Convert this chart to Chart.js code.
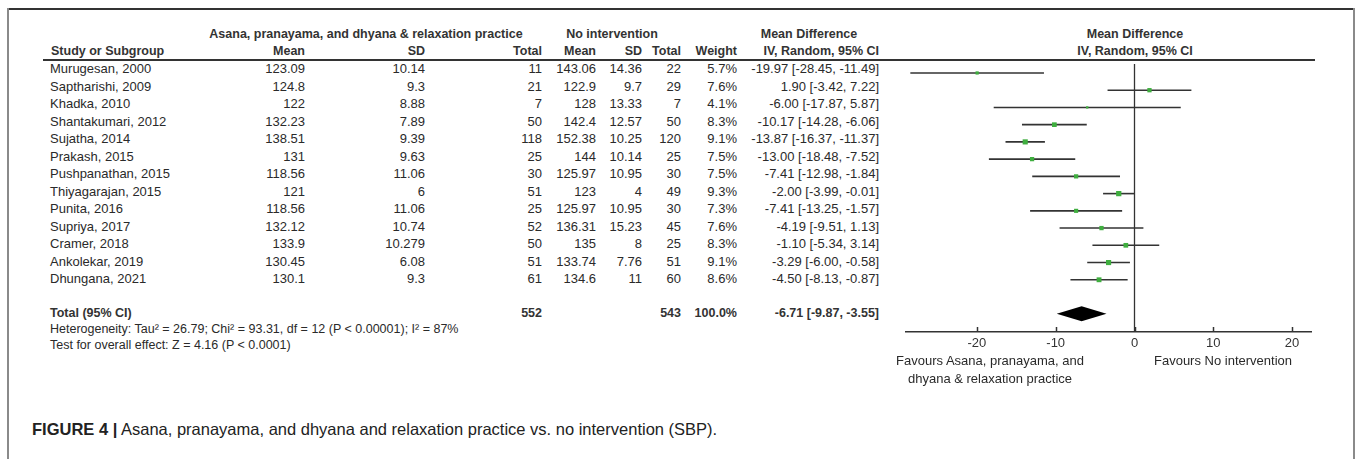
<!DOCTYPE html>
<html>
<head>
<meta charset="utf-8">
<script src="https://cdn.jsdelivr.net/npm/chart.js@4/dist/chart.umd.min.js"></script>
<style>
  html, body { margin: 0; padding: 0; background: #fff; }
  #page { position: relative; width: 1357px; height: 459px; overflow: hidden; font-family: "Liberation Sans", Arial, sans-serif; color: #2a2a2a; }
  .t { position: absolute; white-space: nowrap; font-size: 13px; line-height: 16px; }
  .b { font-weight: bold; font-size: 12.5px; color: #333; }
  .n { font-family: "Liberation Sans Narrow", "Arial Narrow", "Liberation Sans", sans-serif; font-size: 12.5px; }
  .rule { position: absolute; background: #333; }
  #frameTop { position: absolute; left: 7px; top: 8px; width: 1348px; height: 1.5px; background: #333; }
  #frameL { position: absolute; left: 7px; top: 8px; width: 2px; height: 451px; background: #8a8a8a; }
  #frameR { position: absolute; left: 1353px; top: 8px; width: 2px; height: 451px; background: #8a8a8a; }
  #plot { position: absolute; left: 902px; top: 60px; }
  .cap { position: absolute; left: 32px; top: 419px; font-size: 16.5px; line-height: 20px; white-space: nowrap; color: #222; }
</style>
</head>
<body>
<div id="page">
  <div id="frameTop"></div><div id="frameL"></div><div id="frameR"></div>
  <div class="rule" style="left:43px; top:59px; width:1272px; height:1.5px;"></div>
  <canvas id="plot" width="413" height="300"></canvas>
  <div class="cap"><b>FIGURE 4 |</b> Asana, pranayama, and dhyana and relaxation practice vs. no intervention (SBP).</div>
</div>
<script>
// study rows
var studies = ['Murugesan, 2000', 'Saptharishi, 2009', 'Khadka, 2010', 'Shantakumari, 2012', 'Sujatha, 2014',
  'Prakash, 2015', 'Pushpanathan, 2015', 'Thiyagarajan, 2015', 'Punita, 2016', 'Supriya, 2017',
  'Cramer, 2018', 'Ankolekar, 2019', 'Dhungana, 2021'];
var yogaMean = [123.09, 124.8, 122, 132.23, 138.51, 131, 118.56, 121, 118.56, 132.12, 133.9, 130.45, 130.1];
var yogaSD = [10.14, 9.3, 8.88, 7.89, 9.39, 9.63, 11.06, 6, 11.06, 10.74, 10.279, 6.08, 9.3];
var yogaN = [11, 21, 7, 50, 118, 25, 30, 51, 25, 52, 50, 51, 61];
var ctrlMean = [143.06, 122.9, 128, 142.4, 152.38, 144, 125.97, 123, 125.97, 136.31, 135, 133.74, 134.6];
var ctrlSD = [14.36, 9.7, 13.33, 12.57, 10.25, 10.14, 10.95, 4, 10.95, 15.23, 8, 7.76, 11];
var ctrlN = [22, 29, 7, 50, 120, 25, 30, 49, 30, 45, 25, 51, 60];
var weight = [5.7, 7.6, 4.1, 8.3, 9.1, 7.5, 7.5, 9.3, 7.3, 7.6, 8.3, 9.1, 8.6];
var md = [-19.97, 1.90, -6.00, -10.17, -13.87, -13.00, -7.41, -2.00, -7.41, -4.19, -1.10, -3.29, -4.50];
var ciLo = [-28.45, -3.42, -17.87, -14.28, -16.37, -18.48, -12.98, -3.99, -13.25, -9.51, -5.34, -6.00, -8.13];
var ciHi = [-11.49, 7.22, 5.87, -6.06, -11.37, -7.52, -1.84, -0.01, -1.57, 1.13, 3.14, -0.58, -0.87];

// pooled result
var totalYogaN = 552, totalCtrlN = 543, totalWeight = 100.0;
var totalMd = -6.71, totalLo = -9.87, totalHi = -3.55;
var heterogeneity = 'Heterogeneity: Tau\u00b2 = 26.79; Chi\u00b2 = 93.31, df = 12 (P < 0.00001); I\u00b2 = 87%';
var overallTest = 'Test for overall effect: Z = 4.16 (P < 0.0001)';

var xTicks = [-20, -10, 0, 10, 20];
var xMin = -29, xMax = 22.4;

var page = document.getElementById('page');
var W = 1357;

function put(text, x, y, align, cls) {
  var d = document.createElement('div');
  d.className = 't' + (cls ? ' ' + cls : '');
  d.textContent = text;
  d.style.top = (y - 8) + 'px';
  if (align == 'right') d.style.right = (W - x) + 'px';
  else if (align == 'center') { d.style.left = x + 'px'; d.style.transform = 'translateX(-50%)'; }
  else d.style.left = x + 'px';
  page.appendChild(d);
}
function ci(m, l, h) {
  return m.toFixed(2) + ' [' + l.toFixed(2) + ', ' + h.toFixed(2) + ']';
}

// column headers
put('Asana, pranayama, and dhyana & relaxation practice', 366, 34, 'center', 'b');
put('No intervention', 612, 34, 'center', 'b');
put('Mean Difference', 809, 34, 'center', 'b');
put('Mean Difference', 1135, 34, 'center', 'b');
put('Study or Subgroup', 51, 51, 'left', 'b');
put('Mean', 305, 51, 'right', 'b');
put('SD', 425, 51, 'right', 'b');
put('Total', 542, 51, 'right', 'b');
put('Mean', 596, 51, 'right', 'b');
put('SD', 642, 51, 'right', 'b');
put('Total', 681, 51, 'right', 'b');
put('Weight', 737, 51, 'right', 'b');
put('IV, Random, 95% CI', 879, 51, 'right', 'b');
put('IV, Random, 95% CI', 1135, 51, 'center', 'b');

var rowY0 = 69, rowH = 17.5;
for (var i = 0; i < studies.length; i++) {
  var y = rowY0 + rowH * i;
  put(studies[i], 50, y, 'left');
  put(String(yogaMean[i]), 305, y, 'right');
  put(String(yogaSD[i]), 425, y, 'right');
  put(String(yogaN[i]), 542, y, 'right');
  put(String(ctrlMean[i]), 596, y, 'right');
  put(String(ctrlSD[i]), 642, y, 'right');
  put(String(ctrlN[i]), 681, y, 'right');
  put(weight[i].toFixed(1) + '%', 737, y, 'right');
  put(ci(md[i], ciLo[i], ciHi[i]), 879, y, 'right');
}

var totalRow = 14;
var ty = rowY0 + rowH * totalRow - 1;
put('Total (95% CI)', 50, ty, 'left', 'n b');
put(String(totalYogaN), 542, ty, 'right', 'n b');
put(String(totalCtrlN), 681, ty, 'right', 'n b');
put(totalWeight.toFixed(1) + '%', 737, ty, 'right', 'n b');
put(ci(totalMd, totalLo, totalHi), 879, ty, 'right', 'n b');
put(heterogeneity, 50, 329, 'left', 'n');
put(overallTest, 50, 345, 'left', 'n');

// favours labels under the axis
put('Favours Asana, pranayama, and', 990, 361, 'center');
put('dhyana & relaxation practice', 990, 379, 'center');
put('Favours No intervention', 1223, 361, 'center');

// forest plot
var squares = [], ciSets = [];
for (var k = 0; k < studies.length; k++) {
  squares.push({x: md[k], y: k});
  ciSets.push({
    type: 'line', data: [{x: ciLo[k], y: k}, {x: ciHi[k], y: k}],
    borderColor: '#333', borderWidth: 1.6, pointRadius: 0
  });
}

// pooled diamond and upward axis ticks
var forestMarks = {
  id: 'forestMarks',
  afterDatasetsDraw: function(chart) {
    var c = chart.ctx, xs = chart.scales.x, ys = chart.scales.y;
    var yc = ys.getPixelForValue(totalRow - 0.03);
    c.save();
    c.fillStyle = '#000';
    c.beginPath();
    c.moveTo(xs.getPixelForValue(totalLo), yc);
    c.lineTo(xs.getPixelForValue(totalMd), yc - 7.5);
    c.lineTo(xs.getPixelForValue(totalHi), yc);
    c.lineTo(xs.getPixelForValue(totalMd), yc + 7.5);
    c.closePath();
    c.fill();
    c.strokeStyle = '#333';
    c.lineWidth = 1.5;
    xTicks.forEach(function(v) {
      var px = Math.round(xs.getPixelForValue(v)) + 0.5;
      c.beginPath();
      c.moveTo(px, chart.chartArea.bottom);
      c.lineTo(px, chart.chartArea.bottom - 5);
      c.stroke();
    });
    c.restore();
  }
};

new Chart(document.getElementById('plot').getContext('2d'), {
  type: 'scatter',
  data: {
    datasets: [{
      data: squares,
      pointStyle: 'rect',
      pointRadius: weight.map(function(w) { return w * 0.4; }),
      backgroundColor: '#3fae3f',
      borderWidth: 0
    }].concat(ciSets).concat([{
      type: 'line', data: [{x: 0, y: -0.52}, {x: 0, y: 15.03}],
      borderColor: '#333', borderWidth: 1.3, pointRadius: 0
    }])
  },
  options: {
    responsive: false,
    animation: false,
    layout: { padding: 0 },
    plugins: { legend: { display: false }, tooltip: { enabled: false } },
    scales: {
      x: {
        type: 'linear', min: xMin, max: xMax,
        afterBuildTicks: function(s) { s.ticks = xTicks.map(function(v) { return {value: v}; }); },
        afterFit: function(s) { s.height = 28; },
        grid: { display: false, drawTicks: false },
        border: { display: true, color: '#333', width: 1.5 },
        ticks: { padding: 4, color: '#333', font: { family: 'Liberation Sans', size: 13 } }
      },
      y: {
        type: 'linear', reverse: true, min: -0.52, max: 15.03, display: false
      }
    }
  },
  plugins: [forestMarks]
});
</script>
</body>
</html>
